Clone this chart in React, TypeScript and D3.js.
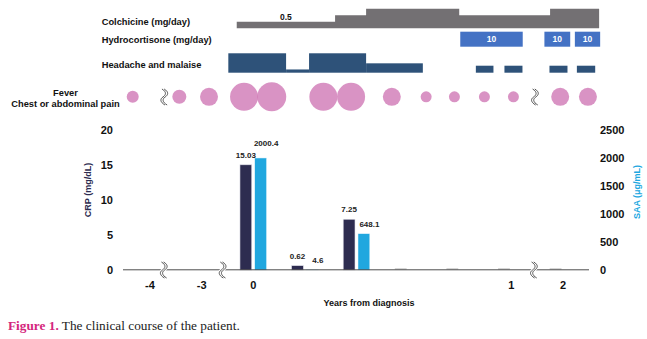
import React from "react";
import * as d3 from "d3";

// ---------- data ----------
const slotLabels = ["-4", "-3", "0", "", "", "", "", "1", "2"];
const crpValues: (number | null)[] = [null, null, 15.03, 0.62, 7.25, 0, 0, 0, 0];
const saaValues: (number | null)[] = [null, null, 2000.4, 4.6, 648.1, null, null, null, null];
const crpTicks = [0, 5, 10, 15, 20];
const saaTicks = [0, 500, 1000, 1500, 2000, 2500];
const axisBreaks = [0.26, 1.4, 7.43];
const rowBreaks = [0.27, 7.45];

// timeline in slot units (0 = first slot centre)
const colchicineStart = [1.68, 3.585, 4.186, 5.99, 7.75];
const colchicineEnd = [3.585, 4.186, 5.99, 7.75, 8.7];
const colchicineDose = [0.5, 1.0, 1.5, 1.0, 1.5];
const colchicineLabel = "0.5";

const hydroStart = [6.01, 7.64, 8.23];
const hydroEnd = [7.22, 8.14, 8.72];
const hydroDose = [10, 10, 10];

const headacheStart = [1.517, 2.636, 3.081, 4.186, 6.312, 6.866, 7.738, 8.269];
const headacheEnd = [2.636, 3.081, 4.186, 5.285, 6.653, 7.215, 8.087, 8.624];
const headacheLevel = [3, 0.5, 3, 1.45, 1.08, 1.08, 1.08, 1.08];

const feverTime = [-0.335, 0.568, 1.143, 1.822, 2.358, 3.358, 3.895, 4.684, 5.349, 5.897, 6.478, 7.04, 7.946, 8.483];
const feverScore = [6, 7, 9, 14, 14.5, 14, 14, 9, 5.5, 5.5, 5.5, 5.5, 9, 9];

// ---------- style ----------
const W = 647, H = 339;
const FONT = "'Liberation Sans', Arial, sans-serif";
const C_CRP = "#2d2c50";
const C_SAA = "#20a7df";
const C_COL = "#737073";
const C_HYD = "#4472c4";
const C_HEAD = "#2e5279";
const C_FEV = "#cf78b5";

function BreakMark({ x, y }: { x: number; y: number }) {
  const p = (dx: number) =>
    `M${x - 1 + dx},${y - 8} C${x + 4 + dx},${y - 5} ${x + 3 + dx},${y - 2} ${x + dx},${y} C${x - 3 + dx},${y + 2} ${x - 3 + dx},${y + 5} ${x + 2 + dx},${y + 8}`;
  return (
    <g>
      <path d={p(0)} fill="none" stroke="#fff" strokeWidth={4} />
      <path d={p(-1)} fill="none" stroke="#444" strokeWidth={0.9} />
      <path d={p(1.2)} fill="none" stroke="#444" strokeWidth={0.9} />
    </g>
  );
}

export default function App() {
  const idx = slotLabels.map((_, i) => i);
  const band = d3.scaleBand<number>().domain(idx).range([124.2, 588.8]).padding(0);
  const step = band.step();
  const t = d3.scaleLinear().domain([0, 1]).range([124.2 + step / 2, 124.2 + step * 1.5]);

  const yCrp = d3.scaleLinear().domain([0, 20]).range([270, 130]);
  const ySaa = d3.scaleLinear().domain([0, 2500]).range([270, 130]);

  const colBase = 28.3;
  const yCol = d3.scaleLinear().domain([0, 1]).range([0, 13.1]);
  const headBase = 72.7;
  const yHead = d3.scaleLinear().domain([0, 1]).range([0, 6.47]);
  const rScale = d3.scaleLinear().domain([0, 15]).range([0, 15]);

  const barW = 11.8;
  const gap = 3;
  const fontB = { fontFamily: FONT, fontWeight: 700 } as const;

  // colchicine step area
  const colPts: [number, number][] = [];
  colchicineStart.forEach((s, i) => {
    colPts.push([t(s), colBase - yCol(colchicineDose[i])]);
    colPts.push([t(colchicineEnd[i]), colBase - yCol(colchicineDose[i])]);
  });
  const colPath =
    `M${colPts[0][0]},${colBase} ` + colPts.map((p) => `L${p[0]},${p[1]}`).join(" ") + ` L${colPts[colPts.length - 1][0]},${colBase} Z`;

  const labels: JSX.Element[] = [];
  const bars: JSX.Element[] = [];
  idx.forEach((i) => {
    const c = band(i)! + step / 2;
    const xC = c - gap / 2 - barW;
    const xS = c + gap / 2;
    const crp = crpValues[i];
    const saa = saaValues[i];
    let crpLabelY: number | null = null;
    let crpLabelRight = -Infinity;
    if (crp !== null) {
      if (crp === 0) {
        bars.push(<rect key={"z" + i} x={xC} y={268} width={barW} height={1.8} fill="#d6d6d6" />);
      } else {
        bars.push(
          <rect key={"c" + i} x={xC} y={yCrp(crp)} width={barW} height={270 - yCrp(crp)} fill={C_CRP} stroke="#e2e2ea" strokeWidth={0.6} />
        );
        const txt = String(crp);
        crpLabelY = yCrp(crp) - 7;
        crpLabelRight = xC + barW / 2 + txt.length * 2.25;
        labels.push(
          <text key={"lc" + i} x={xC + barW / 2} y={crpLabelY} textAnchor="middle" fontSize={8} {...fontB} fill="#222">
            {txt}
          </text>
        );
      }
    }
    if (saa !== null && saa > 0) {
      const top = ySaa(saa);
      bars.push(<rect key={"s" + i} x={xS} y={top} width={barW} height={270 - top} fill={C_SAA} stroke="#e6f4fb" strokeWidth={0.5} />);
      const txt = String(saa);
      const lx = xS + barW / 2 + 5.5;
      let ly = Math.min(top - 7, 263.5);
      const left = lx - txt.length * 2.25;
      if (crpLabelY !== null && left < crpLabelRight && Math.abs(ly - crpLabelY) < 9) ly = crpLabelY - 12;
      labels.push(
        <text key={"ls" + i} x={lx} y={ly} textAnchor="middle" fontSize={8} {...fontB} fill="#222">
          {txt}
        </text>
      );
    }
  });

  return (
    <svg width={W} height={H} viewBox={`0 0 ${W} ${H}`} style={{ position: "absolute", left: 0, top: 0, background: "#fff" }}>
      {/* row labels */}
      <text x={101.7} y={25.3} fontSize={9.3} {...fontB} fill="#111">Colchicine (mg/day)</text>
      <text x={101.7} y={42.5} fontSize={9.3} {...fontB} fill="#111">Hydrocortisone (mg/day)</text>
      <text x={101.7} y={68.3} fontSize={9.3} {...fontB} fill="#111">Headache and malaise</text>
      <text x={65.5} y={95.5} textAnchor="middle" fontSize={9.3} {...fontB} fill="#111">Fever</text>
      <text x={65.5} y={106.5} textAnchor="middle" fontSize={9.3} {...fontB} fill="#111">Chest or abdominal pain</text>

      {/* colchicine */}
      <path d={colPath} fill={C_COL} />
      <text x={t((colchicineStart[0] + colchicineEnd[0]) / 2)} y={19.5} textAnchor="middle" fontSize={8.5} {...fontB} fill="#111">
        {colchicineLabel}
      </text>

      {/* hydrocortisone */}
      {hydroStart.map((s, i) => (
        <g key={"h" + i}>
          <rect x={t(s)} y={31.7} width={t(hydroEnd[i]) - t(s)} height={15} fill={C_HYD} />
          <text x={(t(s) + t(hydroEnd[i])) / 2} y={42.3} textAnchor="middle" fontSize={8.5} {...fontB} fill="#fff">
            {hydroDose[i]}
          </text>
        </g>
      ))}

      {/* headache */}
      {headacheStart.map((s, i) => (
        <rect key={"hd" + i} x={t(s)} y={headBase - yHead(headacheLevel[i])} width={t(headacheEnd[i]) - t(s)} height={yHead(headacheLevel[i])} fill={C_HEAD} />
      ))}

      {/* fever circles */}
      {feverTime.map((ft, i) => (
        <circle key={"f" + i} cx={t(ft)} cy={96.8} r={rScale(feverScore[i])} fill={C_FEV} fillOpacity={0.8} />
      ))}
      {rowBreaks.map((b, i) => (
        <BreakMark key={"rb" + i} x={t(b)} y={97} />
      ))}

      {/* bars */}
      {bars}
      <line x1={123} x2={589} y1={269.8} y2={269.8} stroke="#3a3a3a" strokeWidth={0.9} />
      {axisBreaks.map((b, i) => (
        <BreakMark key={"ab" + i} x={t(b)} y={270} />
      ))}
      {labels}

      {/* left axis */}
      {crpTicks.map((v) => (
        <text key={"lt" + v} x={113} y={yCrp(v) + 4} textAnchor="end" fontSize={11} {...fontB} fill="#111">
          {v}
        </text>
      ))}
      <text transform={`translate(91,190) rotate(-90)`} textAnchor="middle" fontSize={9} {...fontB} fill={C_CRP}>
        CRP (mg/dL)
      </text>

      {/* right axis */}
      {saaTicks.map((v) => (
        <text key={"rt" + v} x={600} y={ySaa(v) + 4} textAnchor="start" fontSize={11} {...fontB} fill="#111">
          {v}
        </text>
      ))}
      <text transform={`translate(640,192) rotate(-90)`} textAnchor="middle" fontSize={9} {...fontB} fill={C_SAA}>
        SAA (μg/mL)
      </text>

      {/* x tick labels */}
      {idx.map((i) =>
        slotLabels[i] ? (
          <text key={"xt" + i} x={band(i)! + step / 2} y={289} textAnchor="middle" fontSize={11} {...fontB} fill="#111">
            {slotLabels[i]}
          </text>
        ) : null
      )}
      <text x={369} y={305.5} textAnchor="middle" fontSize={9} {...fontB} fill="#111">
        Years from diagnosis
      </text>

      {/* caption */}
      <text x={8} y={330} fontSize={13.3} fontFamily="'Liberation Serif', 'DejaVu Serif', serif" fill="#222">
        <tspan fontWeight={700} fill="#d4267d">Figure 1.</tspan>
        <tspan> The clinical course of the patient.</tspan>
      </text>
    </svg>
  );
}
